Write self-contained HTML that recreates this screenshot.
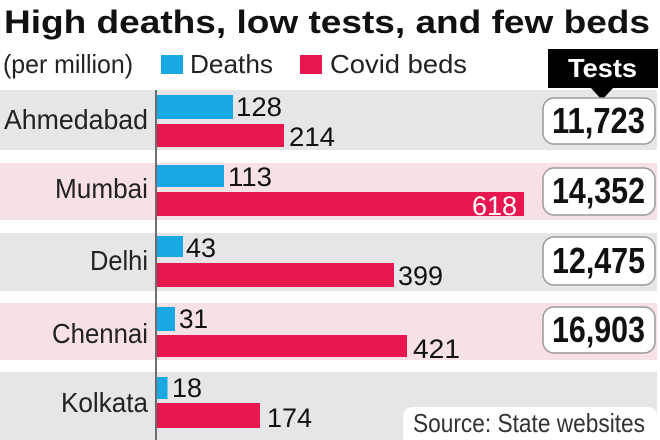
<!DOCTYPE html>
<html><head><meta charset="utf-8"><style>
html,body{margin:0;padding:0;background:#fff;}
svg{display:block;}
text{font-family:"Liberation Sans",sans-serif;}
</style></head><body>
<svg width="660" height="440" viewBox="0 0 660 440" xmlns="http://www.w3.org/2000/svg">
<rect width="660" height="440" fill="#fff"/>
<!-- title -->
<text x="4" y="33" font-size="32" font-weight="bold" fill="#111" textLength="646" lengthAdjust="spacingAndGlyphs">High deaths, low tests, and few beds</text>
<!-- legend -->
<text x="3" y="73" font-size="26" fill="#222" textLength="130" lengthAdjust="spacingAndGlyphs">(per million)</text>
<rect x="161" y="55" width="22" height="19" fill="#19a8e2"/>
<text x="190" y="73" font-size="26" fill="#222" textLength="83" lengthAdjust="spacingAndGlyphs">Deaths</text>
<rect x="300" y="55" width="22" height="19" fill="#e8174f"/>
<text x="330" y="73" font-size="26" fill="#222" textLength="137" lengthAdjust="spacingAndGlyphs">Covid beds</text>
<!-- bands -->
<rect x="0" y="90" width="657" height="60" fill="#e6e6e8"/>
<rect x="0" y="163" width="657" height="57" fill="#f7e1e4"/>
<rect x="0" y="233" width="657" height="58" fill="#e6e6e8"/>
<rect x="0" y="303" width="657" height="57" fill="#f7e1e4"/>
<rect x="0" y="372" width="657" height="68" fill="#e6e6e8"/>
<!-- tests header -->
<rect x="548" y="49" width="110" height="39" fill="#000"/>
<polygon points="590,87 614,87 602,100" fill="#000"/>
<text x="568" y="77" font-size="26" font-weight="bold" fill="#fff" textLength="69" lengthAdjust="spacingAndGlyphs">Tests</text>
<!-- city labels -->
<g font-size="28" fill="#222">
<text x="4" y="129" textLength="144" lengthAdjust="spacingAndGlyphs">Ahmedabad</text>
<text x="55" y="198" textLength="93" lengthAdjust="spacingAndGlyphs">Mumbai</text>
<text x="90" y="270" textLength="58" lengthAdjust="spacingAndGlyphs">Delhi</text>
<text x="52" y="343" textLength="96" lengthAdjust="spacingAndGlyphs">Chennai</text>
<text x="61" y="412" textLength="87" lengthAdjust="spacingAndGlyphs">Kolkata</text>
</g>
<!-- bars -->
<g fill="#19a8e2">
<rect x="157" y="95" width="76" height="24"/>
<rect x="157" y="165" width="67" height="22"/>
<rect x="157" y="236" width="26" height="21"/>
<rect x="157" y="307" width="18" height="24"/>
<rect x="157" y="377" width="10.5" height="22"/>
</g>
<g fill="#e8174f">
<rect x="157" y="124" width="127" height="23"/>
<rect x="157" y="192" width="367" height="24"/>
<rect x="157" y="263" width="237" height="24"/>
<rect x="157" y="335" width="250" height="22"/>
<rect x="157" y="403" width="103" height="25"/>
</g>
<line x1="156" y1="90" x2="156" y2="440" stroke="#444" stroke-width="1.5"/>
<!-- value labels -->
<g font-size="27" fill="#111">
<text x="236" y="116" textLength="46" lengthAdjust="spacingAndGlyphs">128</text>
<text x="289" y="146" textLength="46" lengthAdjust="spacingAndGlyphs">214</text>
<text x="228" y="186" textLength="44" lengthAdjust="spacingAndGlyphs">113</text>
<text x="472" y="215" fill="#fff" textLength="45" lengthAdjust="spacingAndGlyphs">618</text>
<text x="186" y="257" textLength="30" lengthAdjust="spacingAndGlyphs">43</text>
<text x="398" y="285" textLength="45" lengthAdjust="spacingAndGlyphs">399</text>
<text x="179" y="328" textLength="29" lengthAdjust="spacingAndGlyphs">31</text>
<text x="413" y="358" textLength="47" lengthAdjust="spacingAndGlyphs">421</text>
<text x="172" y="397" textLength="30" lengthAdjust="spacingAndGlyphs">18</text>
<text x="267" y="427" textLength="45" lengthAdjust="spacingAndGlyphs">174</text>
</g>
<!-- test value boxes -->
<g fill="#fff" stroke="#9a9a9a" stroke-width="1.5">
<rect x="543" y="98" width="112" height="46" rx="11"/>
<rect x="543" y="168" width="112" height="47" rx="11"/>
<rect x="543" y="237" width="112" height="48" rx="11"/>
<rect x="543" y="307" width="112" height="46" rx="11"/>
</g>
<g font-size="36" font-weight="bold" fill="#111">
<text x="552" y="133" textLength="93" lengthAdjust="spacingAndGlyphs">11,723</text>
<text x="552" y="203" textLength="93" lengthAdjust="spacingAndGlyphs">14,352</text>
<text x="552" y="273" textLength="93" lengthAdjust="spacingAndGlyphs">12,475</text>
<text x="552" y="342" textLength="93" lengthAdjust="spacingAndGlyphs">16,903</text>
</g>
<!-- source -->
<path d="M403,440 L403,418 Q403,407 414,407 L647,407 Q657,407 657,418 L657,440 Z" fill="#fff"/>
<text x="413" y="432" font-size="26" fill="#333" textLength="232" lengthAdjust="spacingAndGlyphs">Source: State websites</text>
</svg>
</body></html>
